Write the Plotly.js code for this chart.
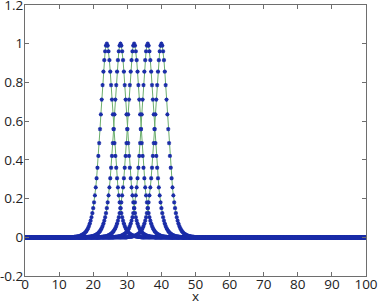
<!DOCTYPE html>
<html>
<head>
<meta charset="utf-8">
<script src="https://cdn.plot.ly/plotly-3.0.1.min.js"></script>
<style>html,body{margin:0;padding:0;background:#fff;}#chart{width:378px;height:305px;}</style>
</head>
<body>
<div id="chart"></div>
<script>
// Pulse centres
var centers = [24, 28, 32, 36, 40];
// Grid of the sampled points
var xStart = 0;
var xStep = 0.25;
var nPoints = 401;
// Pulse profile, offsets -12 ... +12 in steps of 0.25
var profile = [
  0.0000, 0.0000, 0.0000, 0.0000, 0.0000, 0.0000, 0.0000, 0.0000,
  0.0013, 0.0016, 0.0020, 0.0024, 0.0030, 0.0036, 0.0044, 0.0054,
  0.0066, 0.0081, 0.0099, 0.0120, 0.0147, 0.0179, 0.0218, 0.0266,
  0.0324, 0.0394, 0.0479, 0.0582, 0.0707, 0.0856, 0.1036, 0.1250,
  0.1505, 0.1807, 0.2162, 0.2574, 0.3050, 0.3592, 0.4200, 0.4869,
  0.5591, 0.6347, 0.7116, 0.7864, 0.8556, 0.9151, 0.9610, 0.9901,
  1.0000,
  0.9901, 0.9610, 0.9151, 0.8556, 0.7864, 0.7116, 0.6347, 0.5591,
  0.4869, 0.4200, 0.3592, 0.3050, 0.2574, 0.2162, 0.1807, 0.1505,
  0.1250, 0.1036, 0.0856, 0.0707, 0.0582, 0.0479, 0.0394, 0.0324,
  0.0266, 0.0218, 0.0179, 0.0147, 0.0120, 0.0099, 0.0081, 0.0066,
  0.0054, 0.0044, 0.0036, 0.0030, 0.0024, 0.0020, 0.0016, 0.0013,
  0.0000, 0.0000, 0.0000, 0.0000, 0.0000, 0.0000, 0.0000, 0.0000
];
var profileHalf = 48;
var xTicks = [0, 10, 20, 30, 40, 50, 60, 70, 80, 90, 100];
var yTicks = [-0.2, 0, 0.2, 0.4, 0.6, 0.8, 1, 1.2];
var yTickText = ['-0.2', '0', '0.2', '0.4', '0.6', '0.8', '1', '1.2'];
var xTitle = 'x';

var traces = centers.map(function (c) {
  var y = [];
  var ci = Math.round((c - xStart) / xStep);
  for (var i = 0; i < nPoints; i++) {
    var k = i - ci + profileHalf;
    y.push(k >= 0 && k < profile.length ? profile[k] : 0);
  }
  return {
    type: 'scatter', mode: 'lines+markers',
    x0: xStart, dx: xStep, y: y,
    line: {color: '#6cae6c', width: 1},
    marker: {symbol: 'asterisk-open', size: 3.5, color: '#1a2ca8', line: {color: '#1a2ca8', width: 1.1}},
    showlegend: false, hoverinfo: 'skip'
  };
});

var fontSpec = {family: 'Open Sans, sans-serif', size: 13.5, color: '#222'};
var axisCommon = {
  showgrid: false, zeroline: false, showline: true, linecolor: '#6e6e6e', linewidth: 1,
  mirror: 'ticks', ticks: 'inside', ticklen: 4, tickwidth: 1, tickcolor: '#6e6e6e',
  tickfont: fontSpec, ticklabeloverflow: 'allow'
};

var layout = {
  width: 378, height: 305,
  margin: {l: 25, r: 12, t: 5, b: 29},
  paper_bgcolor: '#fff', plot_bgcolor: '#fff',
  xaxis: Object.assign({}, axisCommon, {
    range: [0, 100], tickmode: 'array', tickvals: xTicks, ticklabelstandoff: -4
  }),
  yaxis: Object.assign({}, axisCommon, {
    range: [-0.2, 1.2], tickmode: 'array', tickvals: yTicks, ticktext: yTickText, ticklabelstandoff: -2
  }),
  annotations: [{
    text: xTitle, xref: 'paper', yref: 'paper', x: 0.5, y: -0.075,
    xanchor: 'center', yanchor: 'middle', showarrow: false, font: fontSpec
  }]
};

Plotly.newPlot('chart', traces, layout, {displayModeBar: false, staticPlot: true});
</script>
</body>
</html>
